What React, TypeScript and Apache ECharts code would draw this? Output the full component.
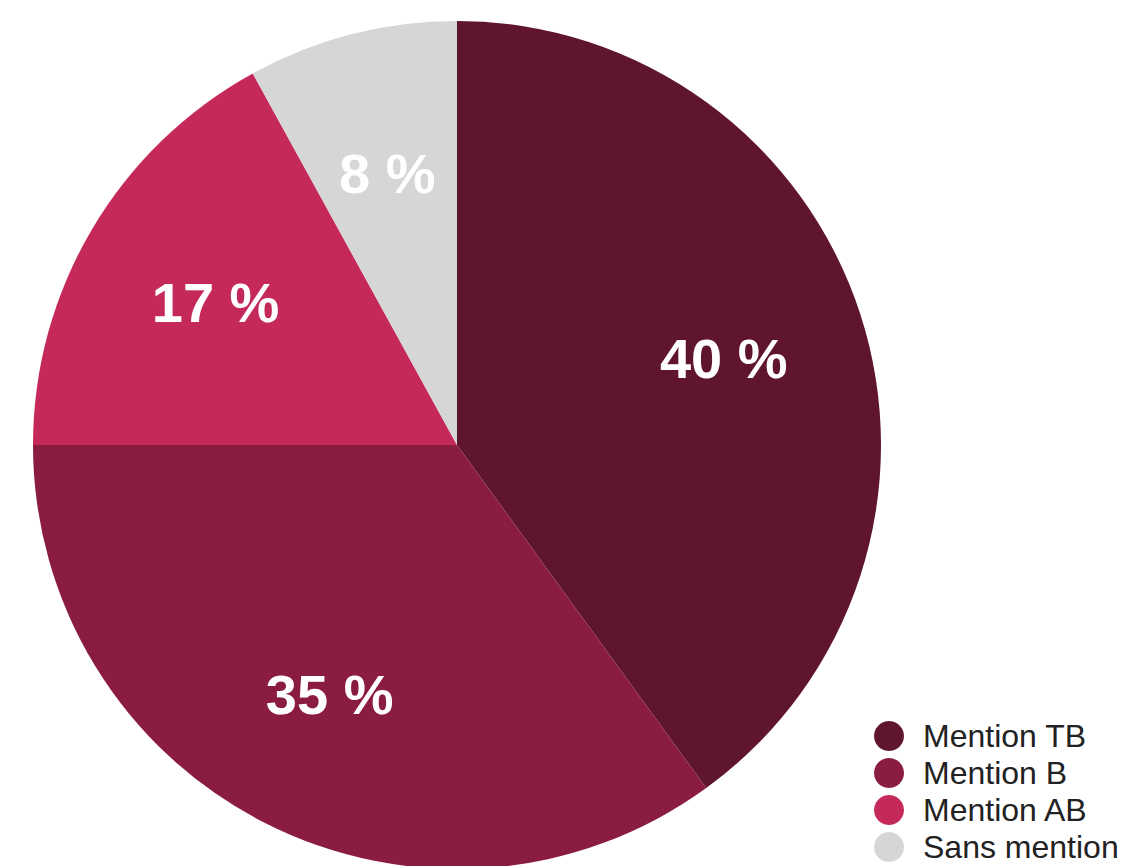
import React, { useEffect, useRef } from "react";
import * as echarts from "echarts";

const categories = ["Mention TB", "Mention B", "Mention AB", "Sans mention"];
const values = [40, 35, 17, 8];
const colors = ["#5f1430", "#8a1c42", "#c4295a", "#d6d6d6"];

export default function App() {
  const ref = useRef<HTMLDivElement>(null);
  useEffect(() => {
    document.body.style.margin = "0";
    if (!ref.current) return;
    const chart = echarts.init(ref.current, null, { renderer: "svg" });
    const data = categories.map((name, i) => ({
      name,
      value: values[i],
      itemStyle: { color: colors[i] },
    }));
    const labelData = categories.map((name, i) => ({
      name,
      value: values[i],
    }));
    chart.setOption({
      animation: false,
      backgroundColor: "#ffffff",
      legend: {
        orient: "vertical",
        left: 874,
        top: 720,
        height: 200,
        width: 260,
        padding: 0,
        icon: "circle",
        itemWidth: 30,
        itemHeight: 30,
        itemGap: 5,
        selectedMode: false,
        data: categories,
        textStyle: {
          fontFamily: "Liberation Sans, Arial, sans-serif",
          fontSize: 32,
          color: "#222222",
          padding: [0, 0, 0, 14],
        },
      },
      series: [
        {
          type: "pie",
          center: [457, 445],
          radius: [0, 424],
          startAngle: 90,
          clockwise: true,
          silent: true,
          label: { show: false },
          labelLine: { show: false },
          itemStyle: { borderWidth: 0 },
          data,
        },
        {
          type: "pie",
          center: [457, 445],
          radius: [131, 424],
          startAngle: 90,
          clockwise: true,
          silent: true,
          itemStyle: { color: "rgba(0,0,0,0)", borderWidth: 0 },
          label: {
            show: true,
            position: "inside",
            formatter: (p: any) => `${p.value} %`,
            color: "#ffffff",
            fontFamily: "Liberation Sans, Arial, sans-serif",
            fontWeight: "bold",
            fontSize: 56,
          },
          labelLine: { show: false },
          data: labelData,
        },
      ],
    });
    return () => chart.dispose();
  }, []);
  return <div ref={ref} style={{ width: 1122, height: 866 }} />;
}
